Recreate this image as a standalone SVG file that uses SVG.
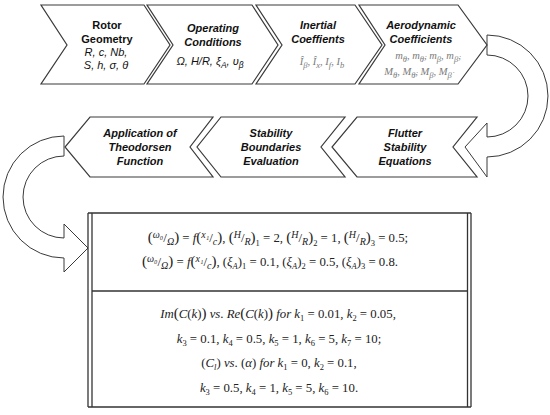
<svg xmlns="http://www.w3.org/2000/svg" width="550" height="415" viewBox="0 0 550 415">
<style>
.chev{fill:#fff;stroke:#3a3a3a;stroke-width:1.2;stroke-linejoin:miter}
.arr{fill:#fff;stroke:#3a3a3a;stroke-width:1}
.t{font-family:"Liberation Sans",Arial,sans-serif;font-size:11px;font-weight:bold;text-anchor:middle;fill:#111}
.bi{font-style:italic}
.p{font-family:"Liberation Sans",Arial,sans-serif;font-size:11px;font-style:italic;text-anchor:middle;fill:#111}
.g{font-family:"Liberation Serif","DejaVu Serif",serif;font-size:10.5px;font-style:italic;text-anchor:middle;fill:#7a7a7a}
.eq{font-family:"Liberation Serif","DejaVu Serif",serif;font-size:12.8px;text-anchor:middle;fill:#222}
.v{font-style:italic}
.s{font-size:8.5px}
.f{font-size:10px;font-style:italic}
.bp{font-size:15px}
.box{fill:none;stroke:#333;stroke-width:1.3}
</style>

<g id="connectors">
  <path class="arr" d="M487,35 A61,61 0 0 1 487,157 L487,177 L465,147 L487,123 L487,137 A41,41 0 0 0 487,55 Z"/>
  <path class="arr" d="M64,136 A61,61 0 0 0 64,258 L64,272 L88,248 L64,224 L64,238 A41,41 0 0 1 64,156 Z"/>
</g>

<g id="rotor-geometry">
  <polygon class="chev" points="41,5 144,5 170,45 144,84 41,84 67,45"/>
  <text class="t" x="107" y="29">Rotor</text>
  <text class="t" x="107" y="43">Geometry</text>
  <text class="p" x="106" y="56">R, c, Nb,</text>
  <text class="p" x="106" y="69">S, h, σ, θ</text>
</g>

<g id="operating-conditions">
  <polygon class="chev" points="147,5 252,5 278,45 252,84 147,84 173,45"/>
  <text class="t bi" x="213" y="32">Operating</text>
  <text class="t bi" x="213" y="46">Conditions</text>
  <text class="p" x="210" y="65">Ω, H/R, ξ<tspan class="s" dy="3">A</tspan><tspan dy="-3">, υ</tspan><tspan class="s" dy="3">β</tspan></text>
</g>

<g id="inertial-coefficients">
  <polygon class="chev" points="256,5 355,5 382,45 355,84 256,84 282,45"/>
  <text class="t bi" x="318" y="29">Inertial</text>
  <text class="t bi" x="318" y="43">Coeffients</text>
  <text class="g" x="322" y="65">Î<tspan class="s" dy="3">β</tspan><tspan dy="-3">,  Î</tspan><tspan class="s" dy="3">x</tspan><tspan dy="-3">,  I</tspan><tspan class="s" dy="3">f</tspan><tspan dy="-3">,  I</tspan><tspan class="s" dy="3">b</tspan></text>
</g>

<g id="aerodynamic-coefficients">
  <polygon class="chev" points="359,5 458,5 487,45 458,84 359,84 385,45"/>
  <text class="t bi" x="421" y="29">Aerodynamic</text>
  <text class="t bi" x="421" y="43">Coefficients</text>
  <text class="g" x="428" y="59">m<tspan class="s" dy="3">θ</tspan><tspan dy="-3">,  m</tspan><tspan class="s" dy="3">θ̇</tspan><tspan dy="-3">,  m</tspan><tspan class="s" dy="3">β</tspan><tspan dy="-3">,  m</tspan><tspan class="s" dy="3">β̇</tspan><tspan dy="-3">,</tspan></text>
  <text class="g" x="418" y="75">M<tspan class="s" dy="3">θ</tspan><tspan dy="-3">,  M</tspan><tspan class="s" dy="3">θ̇</tspan><tspan dy="-3">,  M</tspan><tspan class="s" dy="3">β</tspan><tspan dy="-3">,  M</tspan><tspan class="s" dy="3">β̇</tspan></text>
</g>

<g id="flutter-stability-equations">
  <polygon class="chev" points="357,117 477,117 453,147 477,177 357,177 332,147"/>
  <text class="t bi" x="405" y="137">Flutter</text>
  <text class="t bi" x="405" y="151">Stability</text>
  <text class="t bi" x="405" y="165">Equations</text>
</g>

<g id="stability-boundaries-evaluation">
  <polygon class="chev" points="221,117 345,117 321,147 345,177 221,177 197,147"/>
  <text class="t bi" x="271" y="137">Stability</text>
  <text class="t bi" x="271" y="151">Boundaries</text>
  <text class="t bi" x="271" y="165">Evaluation</text>
</g>

<g id="theodorsen-function">
  <polygon class="chev" points="90,117 213,117 190,147 213,177 90,177 65,147"/>
  <text class="t bi" x="140" y="137">Application of</text>
  <text class="t bi" x="140" y="151">Theodorsen</text>
  <text class="t bi" x="140" y="165">Function</text>
</g>

<g id="results-box">
  <line class="box" x1="88" y1="213" x2="471" y2="213"/>
  <line class="box" x1="88" y1="407" x2="471" y2="407"/>
  <line class="box" x1="88" y1="213" x2="88" y2="407"/>
  <line class="box" x1="92" y1="213" x2="92" y2="407"/>
  <line class="box" x1="467.5" y1="213" x2="467.5" y2="407"/>
  <line class="box" x1="471" y1="213" x2="471" y2="407"/>
  <line class="box" x1="92" y1="291" x2="467.5" y2="291"/>

  <text class="eq" x="278" y="242"><tspan class="bp">(</tspan><tspan class="f" dy="-4">ω₀</tspan><tspan dy="4">/</tspan><tspan class="f" dy="3">Ω</tspan><tspan class="bp" dy="-3">)</tspan> = <tspan class="v">f</tspan><tspan class="bp">(</tspan><tspan class="f" dy="-4">x₁</tspan><tspan dy="4">/</tspan><tspan class="f" dy="3">c</tspan><tspan class="bp" dy="-3">)</tspan>, <tspan class="bp">(</tspan><tspan class="f" dy="-4">H</tspan><tspan dy="4">/</tspan><tspan class="f" dy="3">R</tspan><tspan class="bp" dy="-3">)</tspan><tspan class="s" dy="4">1</tspan><tspan dy="-4"> = 2, </tspan><tspan class="bp">(</tspan><tspan class="f" dy="-4">H</tspan><tspan dy="4">/</tspan><tspan class="f" dy="3">R</tspan><tspan class="bp" dy="-3">)</tspan><tspan class="s" dy="4">2</tspan><tspan dy="-4"> = 1, </tspan><tspan class="bp">(</tspan><tspan class="f" dy="-4">H</tspan><tspan dy="4">/</tspan><tspan class="f" dy="3">R</tspan><tspan class="bp" dy="-3">)</tspan><tspan class="s" dy="4">3</tspan><tspan dy="-4"> = 0.5;</tspan></text>

  <text class="eq" x="270" y="266"><tspan class="bp">(</tspan><tspan class="f" dy="-4">ω₀</tspan><tspan dy="4">/</tspan><tspan class="f" dy="3">Ω</tspan><tspan class="bp" dy="-3">)</tspan> = <tspan class="v">f</tspan><tspan class="bp">(</tspan><tspan class="f" dy="-4">x₁</tspan><tspan dy="4">/</tspan><tspan class="f" dy="3">c</tspan><tspan class="bp" dy="-3">)</tspan>, (<tspan class="v">ξ</tspan><tspan class="v s" dy="3">A</tspan><tspan dy="-3">)</tspan><tspan class="s" dy="3">1</tspan><tspan dy="-3"> = 0.1, (</tspan><tspan class="v">ξ</tspan><tspan class="v s" dy="3">A</tspan><tspan dy="-3">)</tspan><tspan class="s" dy="3">2</tspan><tspan dy="-3"> = 0.5, (</tspan><tspan class="v">ξ</tspan><tspan class="v s" dy="3">A</tspan><tspan dy="-3">)</tspan><tspan class="s" dy="3">3</tspan><tspan dy="-3"> = 0.8.</tspan></text>

  <text class="eq" x="278" y="318"><tspan class="v">Im</tspan><tspan class="bp">(</tspan><tspan class="v">C</tspan>(<tspan class="v">k</tspan>)<tspan class="bp">)</tspan> <tspan class="v">vs</tspan>. <tspan class="v">Re</tspan><tspan class="bp">(</tspan><tspan class="v">C</tspan>(<tspan class="v">k</tspan>)<tspan class="bp">)</tspan> <tspan class="v">for k</tspan><tspan class="s" dy="3">1</tspan><tspan dy="-3"> = 0.01, </tspan><tspan class="v">k</tspan><tspan class="s" dy="3">2</tspan><tspan dy="-3"> = 0.05,</tspan></text>

  <text class="eq" x="279" y="343"><tspan class="v">k</tspan><tspan class="s" dy="3">3</tspan><tspan dy="-3"> = 0.1, </tspan><tspan class="v">k</tspan><tspan class="s" dy="3">4</tspan><tspan dy="-3"> = 0.5, </tspan><tspan class="v">k</tspan><tspan class="s" dy="3">5</tspan><tspan dy="-3"> = 1, </tspan><tspan class="v">k</tspan><tspan class="s" dy="3">6</tspan><tspan dy="-3"> = 5, </tspan><tspan class="v">k</tspan><tspan class="s" dy="3">7</tspan><tspan dy="-3"> = 10;</tspan></text>

  <text class="eq" x="279" y="367">(<tspan class="v">C</tspan><tspan class="v s" dy="3">l</tspan><tspan dy="-3">) </tspan><tspan class="v">vs</tspan>. (<tspan class="v">α</tspan>) <tspan class="v">for k</tspan><tspan class="s" dy="3">1</tspan><tspan dy="-3"> = 0, </tspan><tspan class="v">k</tspan><tspan class="s" dy="3">2</tspan><tspan dy="-3"> = 0.1,</tspan></text>

  <text class="eq" x="279" y="392"><tspan class="v">k</tspan><tspan class="s" dy="3">3</tspan><tspan dy="-3"> = 0.5, </tspan><tspan class="v">k</tspan><tspan class="s" dy="3">4</tspan><tspan dy="-3"> = 1, </tspan><tspan class="v">k</tspan><tspan class="s" dy="3">5</tspan><tspan dy="-3"> = 5, </tspan><tspan class="v">k</tspan><tspan class="s" dy="3">6</tspan><tspan dy="-3"> = 10.</tspan></text>
</g>
</svg>
